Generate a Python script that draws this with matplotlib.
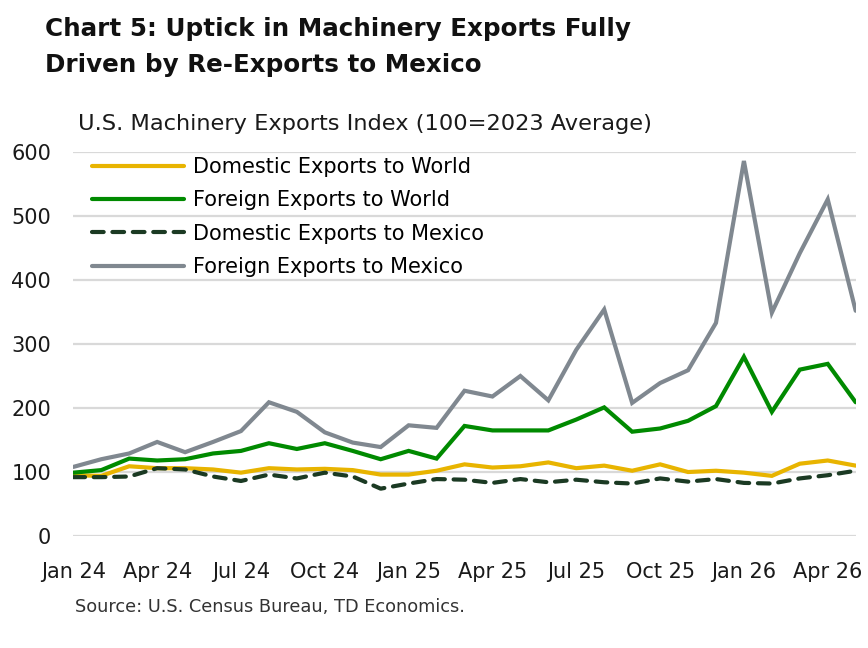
import matplotlib
matplotlib.use("Agg")
import matplotlib.pyplot as plt
import numpy as np

plt.rcParams['font.family'] = ['DejaVu Sans']

months = ['Jan 24', 'Feb 24', 'Mar 24', 'Apr 24', 'May 24', 'Jun 24', 'Jul 24', 'Aug 24',
          'Sep 24', 'Oct 24', 'Nov 24', 'Dec 24', 'Jan 25', 'Feb 25', 'Mar 25', 'Apr 25',
          'May 25', 'Jun 25', 'Jul 25', 'Aug 25', 'Sep 25', 'Oct 25', 'Nov 25', 'Dec 25',
          'Jan 26', 'Feb 26', 'Mar 26', 'Apr 26', 'May 26']

dom_world = [95, 94, 109, 106, 106, 104, 99, 106, 104, 105, 103, 96, 96, 102, 112, 107,
             109, 115, 106, 110, 102, 112, 100, 102, 99, 94, 113, 118, 110]
for_world = [99, 103, 121, 118, 120, 129, 133, 145, 136, 145, 133, 120, 133, 121, 172, 165,
             165, 165, 182, 201, 163, 168, 180, 203, 280, 194, 260, 269, 209]
dom_mexico = [92, 92, 93, 106, 104, 93, 86, 96, 90, 99, 93, 74, 82, 89, 88, 83,
              89, 84, 88, 84, 82, 90, 85, 89, 83, 82, 90, 95, 102]
for_mexico = [108, 120, 129, 147, 131, 147, 164, 209, 194, 162, 146, 139, 173, 169, 227, 218,
              250, 212, 291, 354, 208, 239, 259, 333, 586, 349, 442, 526, 352]

tick_labels = ['Jan 24', 'Apr 24', 'Jul 24', 'Oct 24', 'Jan 25', 'Apr 25', 'Jul 25',
               'Oct 25', 'Jan 26', 'Apr 26']

fig = plt.figure(figsize=(8.68, 6.48), dpi=100)
ax = fig.add_axes([0.0845, 0.1728, 0.9013, 0.5926])

x = np.arange(len(months))
lw = 3.0
ax.plot(x, dom_world, color='#E8B400', lw=lw, label='Domestic Exports to World',
        solid_capstyle='round', solid_joinstyle='miter')
ax.plot(x, for_world, color='#008A00', lw=lw, label='Foreign Exports to World',
        solid_capstyle='round', solid_joinstyle='miter')
ax.plot(x, dom_mexico, color='#1B3A23', lw=lw, label='Domestic Exports to Mexico',
        dashes=(2.8, 2.1), dash_capstyle='round')
ax.plot(x, for_mexico, color='#808890', lw=lw, label='Foreign Exports to Mexico',
        solid_capstyle='round', solid_joinstyle='miter')

ax.set_xlim(0, len(months) - 1)
ax.set_ylim(0, 600)
ax.set_yticks(range(0, 601, 100))
ax.set_xticks([months.index(m) for m in tick_labels])
ax.set_xticklabels(tick_labels)
ax.grid(axis='y', color='#D9D9D9', lw=1.6)
ax.set_axisbelow(True)
for s in ax.spines.values():
    s.set_visible(False)
ax.tick_params(axis='both', length=0, labelsize=15, colors='#1a1a1a')
ax.tick_params(axis='y', pad=16)
ax.tick_params(axis='x', pad=19)

leg = ax.legend(loc='upper left', bbox_to_anchor=(0.005, 1.025), frameon=False, fontsize=15,
                handlelength=4.4, handletextpad=0.45, labelspacing=0.64, borderaxespad=0.3)

fig.text(0.052, 0.974, 'Chart 5: Uptick in Machinery Exports Fully\nDriven by Re-Exports to Mexico',
         fontsize=17.7, fontweight='bold', va='top', ha='left', linespacing=1.62, color='#111111')
fig.text(0.09, 0.808, 'U.S. Machinery Exports Index (100=2023 Average)', fontsize=16.2,
         va='center', ha='left', color='#1a1a1a')
fig.text(0.086, 0.064, 'Source: U.S. Census Bureau, TD Economics.', fontsize=12.8,
         va='center', ha='left', color='#333333')

fig.savefig('out.png', dpi=100)
